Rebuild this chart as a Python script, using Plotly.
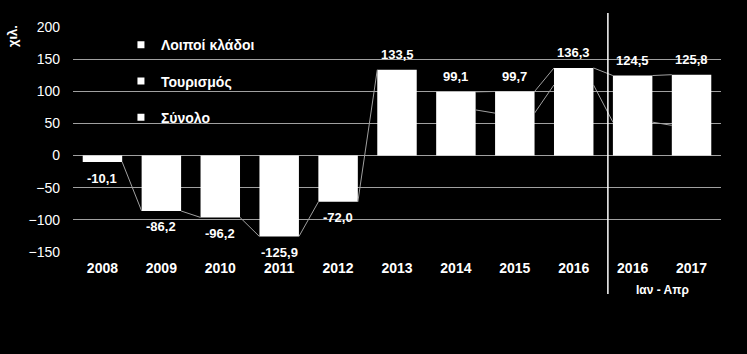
import plotly.graph_objects as go

# ---- data ----
categories = ["2008", "2009", "2010", "2011", "2012", "2013", "2014", "2015", "2016", "2016", "2017"]
totals = [-10.1, -86.2, -96.2, -125.9, -72.0, 133.5, 99.1, 99.7, 136.3, 124.5, 125.8]
# level of the lower series line (visible only 2014-2017)
others_level = [None, None, None, None, None, None, 71, 66, 110, 52, 47]
# whether the series line joining bar i and i+1 (totals) is drawn
total_link_shown = [True, True, True, True, True, False, True, True, True, True]
legend_names = ["Λοιποί κλάδοι", "Τουρισμός", "Σύνολο"]
y_ticks = [-150, -100, -50, 0, 50, 100, 150, 200]
period_label = "Ιαν - Απρ"
y_title = "χιλ."

BAR_W = 0.67
GRID = "#a0a0a0"
FONT = "Liberation Sans, Arial, sans-serif"

xs = list(range(len(categories)))
fig = go.Figure()

fig.add_trace(go.Bar(x=xs, y=totals, width=BAR_W, marker=dict(color="white", line=dict(width=0)),
                     showlegend=False, hoverinfo="skip"))

def link_segments(values, shown=None):
    lx, ly = [], []
    for i in range(len(values) - 1):
        a, b = values[i], values[i + 1]
        if a is None or b is None:
            continue
        if shown is not None and not shown[i]:
            continue
        lx += [xs[i] + BAR_W / 2, xs[i + 1] - BAR_W / 2, None]
        ly += [a, b, None]
    return lx, ly

for vals, sh in [(totals, total_link_shown), (others_level, None)]:
    lx, ly = link_segments(vals, sh)
    fig.add_trace(go.Scatter(x=lx, y=ly, mode="lines", line=dict(color=GRID, width=1),
                             showlegend=False, hoverinfo="skip"))

for k, name in enumerate(legend_names):
    fig.add_trace(go.Scatter(x=[None], y=[None], mode="markers", name=name,
                             legendgroup=f"g{k}",
                             marker=dict(symbol="square", size=7, color="white")))

annotations = []
for i, v in enumerate(totals):
    annotations.append(dict(x=xs[i], y=v, text=f"{v:.1f}".replace(".", ","), showarrow=False,
                            yshift=15 if v > 0 else -16,
                            font=dict(family=FONT, size=13, color="white", weight="bold")))
annotations.append(dict(x=(xs[9] + xs[10]) / 2, xref="x", y=-0.17, yref="paper", text=period_label,
                        xanchor="center", yanchor="middle",
                        showarrow=False, font=dict(family=FONT, size=12, color="white", weight="bold")))
annotations.append(dict(x=-0.094, xref="paper", y=0.96, yref="paper", text=y_title, textangle=-90,
                        xanchor="center", yanchor="middle",
                        showarrow=False, font=dict(family=FONT, size=13, color="white", weight="bold")))

fig.update_layout(
    width=747, height=354,
    margin=dict(l=73, r=26, t=27, b=102),
    paper_bgcolor="black", plot_bgcolor="black",
    font=dict(family=FONT, color="white", size=13),
    bargap=0.33,
    showlegend=True,
    legend=dict(x=0.074, y=0.99, xanchor="left", yanchor="top", bgcolor="rgba(0,0,0,0)",
                traceorder="grouped", tracegroupgap=15,
                font=dict(family=FONT, size=14, color="white", weight="bold")),
    annotations=annotations,
    shapes=[dict(type="line", xref="x", yref="paper", x0=8.58, x1=8.58, y0=-0.187, y1=1.062,
                 line=dict(color="white", width=1.5))],
)
fig.update_xaxes(range=[-0.5, len(categories) - 0.5], tickvals=xs, ticktext=categories,
                 showgrid=False, zeroline=False, showline=False, ticks="",
                 ticklabelstandoff=6,
                 tickfont=dict(family=FONT, size=14, color="white", weight="bold"))
fig.update_yaxes(range=[-150, 200], tickvals=y_ticks, showgrid=True, gridcolor=GRID, gridwidth=1,
                 zeroline=True, zerolinecolor=GRID, zerolinewidth=1, showline=False, ticks="",
                 ticklabelstandoff=12,
                 tickfont=dict(family=FONT, size=14, color="white"))

fig.write_html("out.html")
